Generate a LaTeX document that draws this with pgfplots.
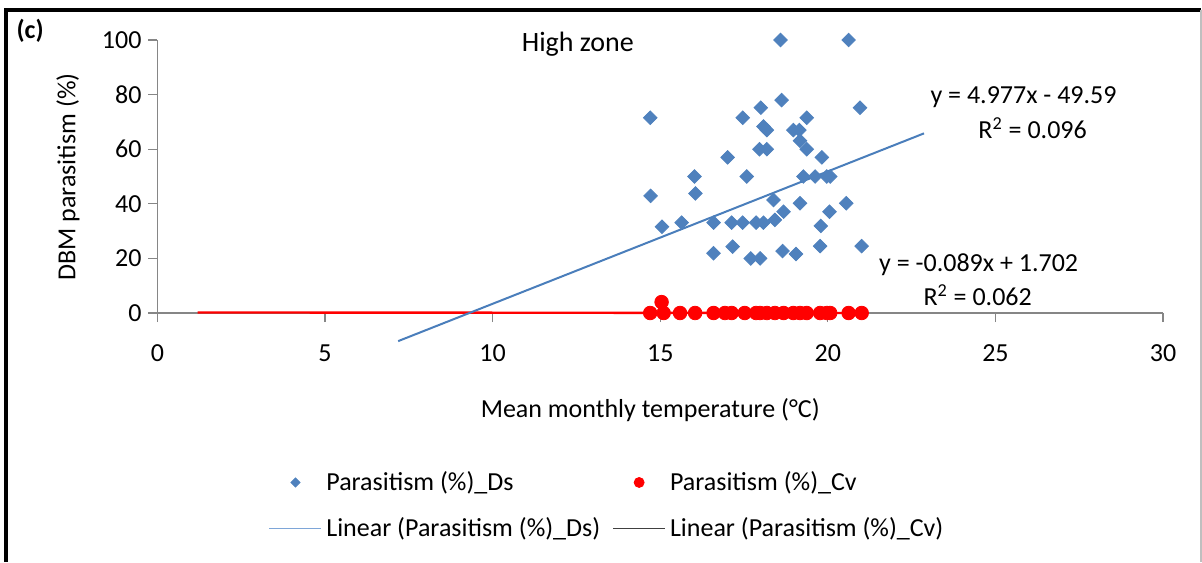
\documentclass[border=0pt]{standalone}
\usepackage{pgfplots}
\pgfplotsset{compat=1.18}
\usepackage{fontspec}
\setmainfont{Carlito}
\definecolor{dsblue}{HTML}{4F81BD}
\definecolor{trendblue}{HTML}{4A7EBB}
\definecolor{lightblue}{HTML}{7EA6D8}
\definecolor{axgray}{HTML}{868686}
\definecolor{cvred}{HTML}{FF0000}

\pgfplotstableread{
x y
14.70 71.5
14.71 42.9
15.05 31.6
15.64 33.1
16.02 50.0
16.05 43.8
16.59 33.1
16.59 21.9
17.01 57.0
17.13 33.1
17.16 24.3
17.46 71.5
17.46 33.1
17.58 50.0
17.70 20.0
17.86 33.1
17.96 60.0
17.98 20.0
18.00 75.2
18.08 68.3
18.08 33.1
18.18 67.0
18.18 60.0
18.38 41.4
18.42 34.1
18.59 100
18.62 78.0
18.65 22.7
18.68 37.1
18.97 67.0
19.05 21.6
19.15 67.0
19.17 63.1
19.17 40.2
19.27 50.0
19.37 71.5
19.37 60.0
19.62 50.0
19.77 24.5
19.79 31.9
19.82 57.0
19.97 50.0
20.05 37.1
20.07 50.0
20.55 40.2
20.62 100
20.96 75.2
21.01 24.5
}\dsdata

\pgfplotstableread{
x y
14.70 0
15.10 0
15.59 0
16.04 0
16.59 0
16.93 0
17.13 0
17.52 0
17.86 0
17.98 0
18.18 0
18.42 0
18.68 0
18.97 0
19.17 0
19.37 0
19.77 0
19.97 0
20.07 0
20.62 0
21.01 0
15.04 4
}\cvdata

\begin{document}
\begin{tikzpicture}
\useasboundingbox (-78.75pt,-124.5pt) rectangle (522.25pt,156.5pt);
\draw[black, line width=1.6pt] (-75.75pt,-124.5pt) -- (-75.75pt,151.5pt) -- (521.75pt,151.5pt);
\draw[gray!50, line width=0.6pt] (521.75pt,151.5pt) -- (521.75pt,-124.5pt);
\begin{axis}[
  scale only axis, width=502.75pt, height=136.5pt,
  xmin=0, xmax=30, ymin=0, ymax=100,
  axis lines=left,
  axis line style={-, draw=axgray, line width=0.6pt},
  xtick={0,5,...,30}, ytick={0,20,...,100},
  tick align=outside, major tick length=4.5pt,
  tick style={draw=axgray, line width=0.6pt},
  clip=false,
  font=\fontsize{13}{15.6}\selectfont,
  tick label style={font=\fontsize{13}{15.6}\selectfont, black},
  xticklabel style={yshift=-8pt},
  /pgf/number format/assume math mode=true,
  xlabel={Mean monthly temperature (°C)},
  xlabel style={at={(axis description cs:0.49,-0.355)}, anchor=center},
  ylabel={DBM parasitism (\%)},
  ylabel style={at={(axis description cs:-0.089,0.498)}, anchor=center},
  legend image code/.code={\draw[mark repeat=2,mark phase=2,#1] plot coordinates {(0pt,0pt) (13pt,0pt) (26pt,0pt)};},
  legend columns=2,
  legend cell align=left,
  legend style={at={(0.448,-0.705)}, anchor=center, draw=none, fill=none,
    font=\fontsize{13}{15.6}\selectfont, row sep=8pt,
    /tikz/every even column/.append style={column sep=4pt}},
]
% legend entries
\addlegendimage{only marks, mark=square*, mark size=1.6pt, mark options={rotate=45, fill=dsblue, draw=dsblue}}
\addlegendentry{Parasitism (\%)\_Ds}
\addlegendimage{only marks, mark=*, mark size=2.5pt, mark options={fill=cvred, draw=cvred}}
\addlegendentry{Parasitism (\%)\_Cv}
\addlegendimage{no markers, draw=lightblue, line width=0.9pt}
\addlegendentry{Linear (Parasitism (\%)\_Ds)}
\addlegendimage{no markers, draw=black!75, line width=0.9pt}
\addlegendentry{Linear (Parasitism (\%)\_Cv)}

% trend lines
\addplot[forget plot, draw=cvred, line width=1.2pt, no markers] coordinates {(1.20,0.2) (21.0,0.0)};
\addplot[forget plot, draw=trendblue, line width=1.0pt, no markers] coordinates {(7.18,-10.3) (22.87,65.8)};

% scatter
\addplot[forget plot, only marks, mark=*, mark size=3.4pt, mark options={fill=cvred, draw=cvred}] table[x=x,y=y] {\cvdata};
\addplot[forget plot, only marks, mark=square*, mark size=2.4pt, mark options={rotate=45, fill=dsblue, draw=dsblue}] table[x=x,y=y] {\dsdata};

% annotations
\node[font=\fontsize{14}{16}\selectfont] at (axis cs:12.54,98.5) {High zone};
\node[font=\fontsize{13}{15}\selectfont\bfseries] at (axis cs:-3.8,103.2) {(c)};
\node at (axis cs:25.84,79.1) {y = 4.977x - 49.59};
\node at (axis cs:26.11,67.8) {R\textsuperscript{2} = 0.096};
\node at (axis cs:24.5,17.6) {y = -0.089x + 1.702};
\node at (axis cs:24.47,6.6) {R\textsuperscript{2} = 0.062};
\end{axis}
\end{tikzpicture}
\end{document}
